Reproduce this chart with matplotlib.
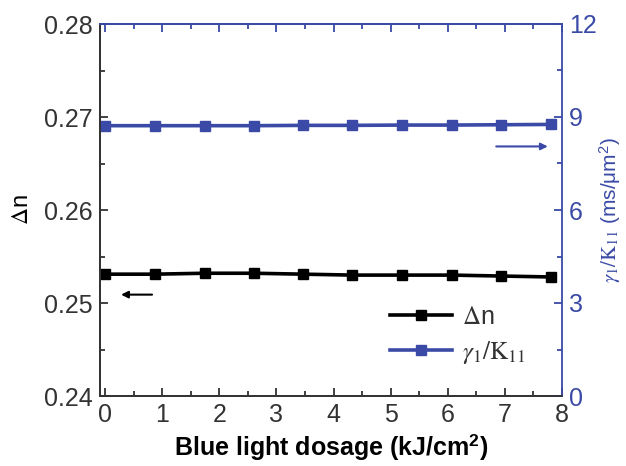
import matplotlib
matplotlib.use("Agg")
import matplotlib.pyplot as plt
from matplotlib.ticker import MultipleLocator

plt.rcParams['font.family'] = ['Liberation Sans', 'DejaVu Sans']
plt.rcParams['mathtext.fontset'] = 'stix'

# data
dosage = [0.0, 0.87, 1.74, 2.6, 3.47, 4.33, 5.2, 6.07, 6.93, 7.8]
delta_n = [0.2531, 0.2531, 0.2532, 0.2532, 0.2531, 0.2530, 0.2530, 0.2530, 0.2529, 0.2528]
gamma_k = [8.72, 8.72, 8.72, 8.72, 8.73, 8.73, 8.74, 8.74, 8.75, 8.76]

blue = '#3a4aa6'
dark = '#333333'

fig = plt.figure(figsize=(6.26, 4.66), dpi=100)
ax = fig.add_axes([100 / 626, 70 / 466, 462 / 626, 372 / 466])
ax2 = ax.twinx()

lnA, = ax.plot(dosage, delta_n, color='black', lw=2.6, marker='s', ms=7, label=r'$\Delta$n')
lnB, = ax2.plot(dosage, gamma_k, color=blue, lw=2.6, marker='s', ms=7, label=r'$\gamma_1/\mathrm{K}_{11}$')

ax.set_xlim(-0.09, 8)
ax.set_ylim(0.24, 0.28)
ax2.set_ylim(0, 12)

ax.xaxis.set_major_locator(MultipleLocator(1))
ax.xaxis.set_minor_locator(MultipleLocator(0.5))
ax.yaxis.set_major_locator(MultipleLocator(0.01))
ax.yaxis.set_minor_locator(MultipleLocator(0.005))
ax2.yaxis.set_major_locator(MultipleLocator(3))
ax2.yaxis.set_minor_locator(MultipleLocator(1.5))
ax.yaxis.set_major_formatter(plt.FormatStrFormatter('%.2f'))

ax.tick_params(axis='x', which='both', direction='in', top=False, colors=dark, labelsize=18, pad=5)
ax.tick_params(axis='y', which='both', direction='in', colors=dark, labelsize=18, pad=5)
ax.tick_params(which='major', length=6, width=1.3)
ax.tick_params(which='minor', length=3.5, width=1.3)
ax2.tick_params(axis='y', which='both', direction='in', colors=blue, labelsize=18, pad=5)
ax2.tick_params(which='major', length=6, width=1.3)
ax2.tick_params(which='minor', length=3.5, width=1.3)

# top ticks in blue
top = ax.secondary_xaxis('top')
top.xaxis.set_major_locator(MultipleLocator(1))
top.xaxis.set_minor_locator(MultipleLocator(0.5))
top.tick_params(which='both', direction='in', colors=blue, labeltop=False, width=1.3)
top.tick_params(which='major', length=6)
top.tick_params(which='minor', length=3.5)
top.spines['top'].set_color(blue)
top.spines['top'].set_linewidth(1.3)

for s in ['left', 'bottom']:
    ax.spines[s].set_color(dark)
    ax.spines[s].set_linewidth(1.3)
    ax2.spines[s].set_color(dark)
    ax2.spines[s].set_linewidth(1.3)
ax2.spines['right'].set_color(blue)
ax2.spines['right'].set_linewidth(1.3)
ax2.spines['top'].set_color(blue)
ax2.spines['top'].set_linewidth(1.3)
ax.spines['top'].set_visible(False)
ax.spines['right'].set_visible(False)

ax.set_xlabel('Blue light dosage (kJ/cm$^\\mathregular{2}$)', fontsize=18, fontweight='bold', labelpad=4)
ax.set_ylabel(r'$\Delta$n', fontsize=17, labelpad=8)
ax2.set_ylabel(r'$\gamma_1/\mathrm{K}_{11}$ (ms/μm$^\mathregular{2}$)', fontsize=15, color=blue, labelpad=1)

# direction arrows
ax.annotate('', xy=(0.23, 0.2509), xytext=(0.87, 0.2509),
            arrowprops=dict(arrowstyle='-|>', color='black', lw=1.5, mutation_scale=10))
ax2.annotate('', xy=(7.8, 8.05), xytext=(6.8, 8.05),
             arrowprops=dict(arrowstyle='-|>', color=blue, lw=1.5, mutation_scale=10))

leg = ax.legend(handles=[lnA, lnB], loc='lower right', bbox_to_anchor=(0.97, 0.02),
                frameon=False, fontsize=18, handlelength=2.5, handletextpad=0.4,
                labelspacing=0.4)
for t in leg.get_texts():
    t.set_color(dark)

fig.savefig('out.png', dpi=100)
